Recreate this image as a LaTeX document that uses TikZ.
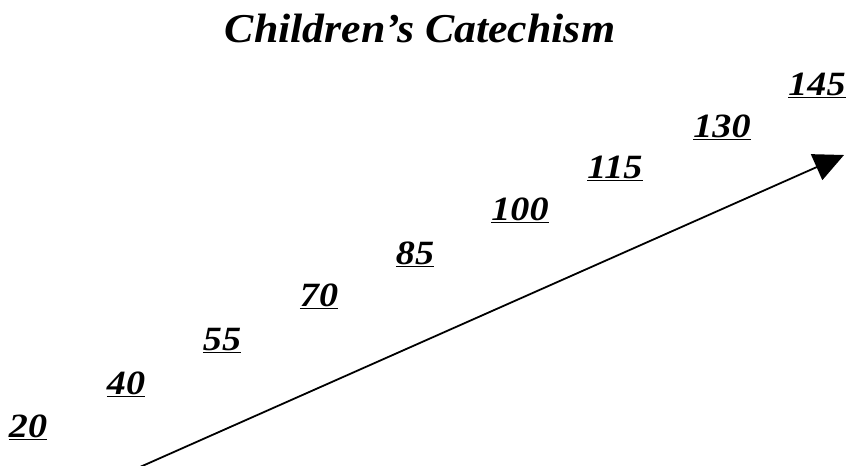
\documentclass[tikz,border=0pt]{standalone}
\usepackage{fontspec}
\setmainfont{Liberation Serif}
\usetikzlibrary{arrows.meta}
\tikzset{
  num/.style={anchor=base, font=\fontsize{34}{38}\selectfont\bfseries\itshape, inner sep=0pt, xscale=1.12},
  ttl/.style={anchor=base, font=\fontsize{41}{44}\selectfont\bfseries\itshape, inner sep=0pt, xscale=1.07},
}
\begin{document}
\begin{tikzpicture}[x=1pt,y=-1pt]
\useasboundingbox[fill=white] (0,0) rectangle (847,466);
\node[ttl] (title) at (420,42) {Children’s Catechism};
\node[num] (n20) at (28,437) {\underline{20}};
\node[num] (n40) at (126,394) {\underline{40}};
\node[num] (n55) at (222,350) {\underline{55}};
\node[num] (n70) at (319,306) {\underline{70}};
\node[num] (n85) at (415,264) {\underline{85}};
\node[num] (n100) at (520,220) {\underline{100}};
\node[num] (n115) at (615,178) {\underline{115}};
\node[num] (n130) at (722,137) {\underline{130}};
\node[num] (n145) at (817,95) {\underline{145}};
\coordinate (a) at (140,467);
\coordinate (b) at (844,155);
\draw[line width=1.8pt, -{Triangle[length=30pt, width=28pt]}] (a) -- (b);
\end{tikzpicture}
\end{document}
